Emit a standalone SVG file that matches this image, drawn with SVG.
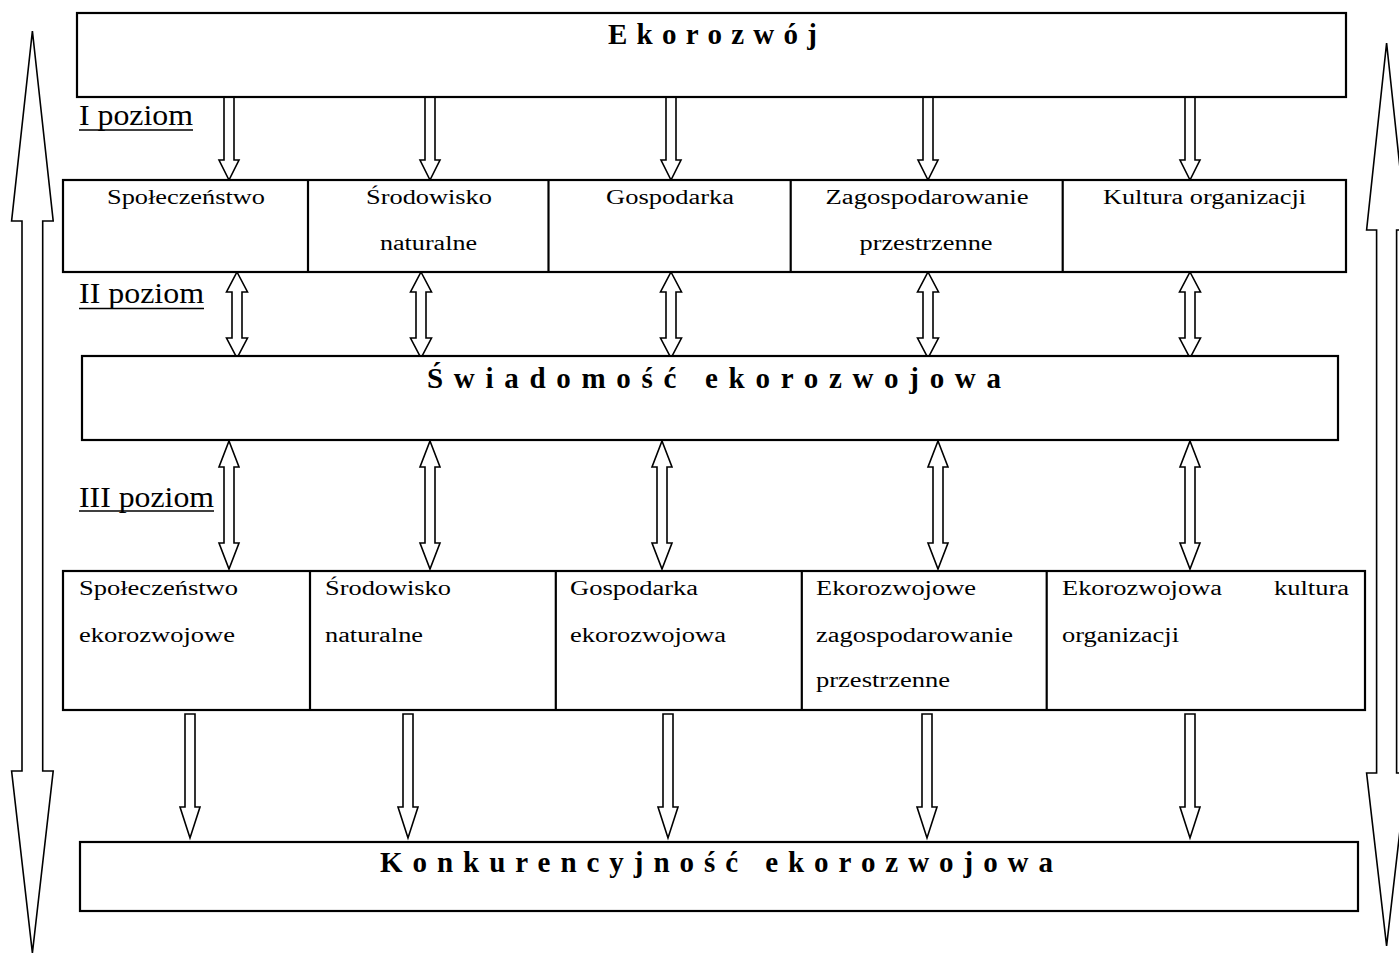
<svg xmlns="http://www.w3.org/2000/svg" width="1399" height="954" viewBox="0 0 1399 954">
<style>
.box{fill:#fff;stroke:#000;stroke-width:2.2}
.div{stroke:#000;stroke-width:2.2}
.arr{fill:#fff;stroke:#000;stroke-width:1.6;stroke-linejoin:miter}
.t{font-family:"Liberation Serif","Times New Roman",serif;font-size:20px;fill:#000}
.c{text-anchor:middle}
.ttl{font-family:"Liberation Serif","Times New Roman",serif;font-size:29px;font-weight:bold;fill:#000;text-anchor:middle}
.lvl{font-family:"Liberation Serif","Times New Roman",serif;font-size:29.5px;fill:#000}
.ul{stroke:#000;stroke-width:1.6}
</style>
<rect width="1399" height="954" fill="#fff"/>

<g id="side-arrows">
<polygon class="arr" points="32.4,31 53.2,221 42.7,221 42.7,771 53.2,771 32.4,953 11.6,771 22,771 22,221 11.6,221"/>
<polygon class="arr" points="1386.6,43 1406.6,230 1396.6,230 1396.6,773 1406.6,773 1386.6,946 1366.6,773 1376.6,773 1376.6,230 1366.6,230"/>
</g>

<g id="level-labels">
<text class="lvl" x="79" y="124.5" textLength="114" lengthAdjust="spacingAndGlyphs">I poziom</text>
<line class="ul" x1="79" y1="130" x2="193" y2="130"/>
<text class="lvl" x="79" y="303" textLength="125" lengthAdjust="spacingAndGlyphs">II poziom</text>
<line class="ul" x1="79" y1="308.5" x2="204" y2="308.5"/>
<text class="lvl" x="79" y="507" textLength="135" lengthAdjust="spacingAndGlyphs">III poziom</text>
<line class="ul" x1="79" y1="511" x2="214" y2="511"/>
</g>

<g id="connectors">
<polygon class="arr" points="224,97 234,97 234,160 239,160 229,180 219,160 224,160"/>
<polygon class="arr" points="425,97 435,97 435,160 440,160 430,180 420,160 425,160"/>
<polygon class="arr" points="666,97 676,97 676,160 681,160 671,180 661,160 666,160"/>
<polygon class="arr" points="923,97 933,97 933,160 938,160 928,180 918,160 923,160"/>
<polygon class="arr" points="1185,97 1195,97 1195,160 1200,160 1190,180 1180,160 1185,160"/>
<polygon class="arr" points="237,272 247.5,292 242,292 242,338 247.5,338 237,358 226.5,338 232,338 232,292 226.5,292"/>
<polygon class="arr" points="421,272 431.5,292 426,292 426,338 431.5,338 421,358 410.5,338 416,338 416,292 410.5,292"/>
<polygon class="arr" points="671,272 681.5,292 676,292 676,338 681.5,338 671,358 660.5,338 666,338 666,292 660.5,292"/>
<polygon class="arr" points="928,272 938.5,292 933,292 933,338 938.5,338 928,358 917.5,338 923,338 923,292 917.5,292"/>
<polygon class="arr" points="1190,272 1200.5,292 1195,292 1195,338 1200.5,338 1190,358 1179.5,338 1185,338 1185,292 1179.5,292"/>
<polygon class="arr" points="229,441 239,467 234,467 234,543 239,543 229,569 219,543 224,543 224,467 219,467"/>
<polygon class="arr" points="430,441 440,467 435,467 435,543 440,543 430,569 420,543 425,543 425,467 420,467"/>
<polygon class="arr" points="662,441 672,467 667,467 667,543 672,543 662,569 652,543 657,543 657,467 652,467"/>
<polygon class="arr" points="938,441 948,467 943,467 943,543 948,543 938,569 928,543 933,543 933,467 928,467"/>
<polygon class="arr" points="1190,441 1200,467 1195,467 1195,543 1200,543 1190,569 1180,543 1185,543 1185,467 1180,467"/>
<polygon class="arr" points="185,714 195,714 195,807 200,807 190,838 180,807 185,807"/>
<polygon class="arr" points="403,714 413,714 413,807 418,807 408,838 398,807 403,807"/>
<polygon class="arr" points="663,714 673,714 673,807 678,807 668,838 658,807 663,807"/>
<polygon class="arr" points="922,714 932,714 932,807 937,807 927,838 917,807 922,807"/>
<polygon class="arr" points="1185,714 1195,714 1195,807 1200,807 1190,838 1180,807 1185,807"/>
</g>

<g id="ekorozwoj">
<rect class="box" x="77" y="13" width="1269" height="84"/>
<text class="ttl" x="712.5" y="44" textLength="209" lengthAdjust="spacing">E k o r o z w ó j</text>
</g>

<g id="level1">
<rect class="box" x="63" y="180" width="1283" height="92"/>
<line class="div" x1="308" y1="180" x2="308" y2="272"/>
<line class="div" x1="548.5" y1="180" x2="548.5" y2="272"/>
<line class="div" x1="790.7" y1="180" x2="790.7" y2="272"/>
<line class="div" x1="1062.7" y1="180" x2="1062.7" y2="272"/>
</g>
<g id="l1-spoleczenstwo"><text class="t c" x="186" y="204" textLength="158" lengthAdjust="spacingAndGlyphs">Społeczeństwo</text></g>
<g id="l1-srodowisko"><text class="t c" x="429" y="204" textLength="126" lengthAdjust="spacingAndGlyphs">Środowisko</text><text class="t c" x="428.5" y="250" textLength="97" lengthAdjust="spacingAndGlyphs">naturalne</text></g>
<g id="l1-gospodarka"><text class="t c" x="670" y="204" textLength="128" lengthAdjust="spacingAndGlyphs">Gospodarka</text></g>
<g id="l1-zagospodarowanie"><text class="t c" x="927" y="204" textLength="203" lengthAdjust="spacingAndGlyphs">Zagospodarowanie</text><text class="t c" x="926" y="250" textLength="133" lengthAdjust="spacingAndGlyphs">przestrzenne</text></g>
<g id="l1-kultura"><text class="t c" x="1204.5" y="204" textLength="203" lengthAdjust="spacingAndGlyphs">Kultura organizacji</text></g>

<g id="swiadomosc">
<rect class="box" x="82" y="356" width="1256" height="84"/>
<text class="ttl" x="714" y="388" textLength="574" lengthAdjust="spacing" xml:space="preserve">Ś w i a d o m o ś ć   e k o r o z w o j o w a</text>
</g>

<g id="level3">
<rect class="box" x="63" y="571" width="1302" height="139"/>
<line class="div" x1="310" y1="571" x2="310" y2="710"/>
<line class="div" x1="555.8" y1="571" x2="555.8" y2="710"/>
<line class="div" x1="801.8" y1="571" x2="801.8" y2="710"/>
<line class="div" x1="1046.7" y1="571" x2="1046.7" y2="710"/>
</g>
<g id="l3-spoleczenstwo"><text class="t" x="79" y="595" textLength="159" lengthAdjust="spacingAndGlyphs">Społeczeństwo</text><text class="t" x="79" y="642" textLength="156" lengthAdjust="spacingAndGlyphs">ekorozwojowe</text></g>
<g id="l3-srodowisko"><text class="t" x="325" y="595" textLength="126" lengthAdjust="spacingAndGlyphs">Środowisko</text><text class="t" x="325" y="642" textLength="98" lengthAdjust="spacingAndGlyphs">naturalne</text></g>
<g id="l3-gospodarka"><text class="t" x="570" y="595" textLength="128" lengthAdjust="spacingAndGlyphs">Gospodarka</text><text class="t" x="570" y="642" textLength="156" lengthAdjust="spacingAndGlyphs">ekorozwojowa</text></g>
<g id="l3-zagospodarowanie"><text class="t" x="816" y="595" textLength="160" lengthAdjust="spacingAndGlyphs">Ekorozwojowe</text><text class="t" x="816" y="642" textLength="197" lengthAdjust="spacingAndGlyphs">zagospodarowanie</text><text class="t" x="816" y="687" textLength="134" lengthAdjust="spacingAndGlyphs">przestrzenne</text></g>
<g id="l3-kultura"><text class="t" y="595"><tspan x="1062" textLength="160" lengthAdjust="spacingAndGlyphs">Ekorozwojowa</tspan> <tspan x="1274" textLength="75" lengthAdjust="spacingAndGlyphs">kultura</tspan></text><text class="t" x="1062" y="642" textLength="117" lengthAdjust="spacingAndGlyphs">organizacji</text></g>

<g id="konkurencyjnosc">
<rect class="box" x="80" y="842" width="1278" height="69"/>
<text class="ttl" x="716.5" y="872" textLength="673" lengthAdjust="spacing" xml:space="preserve">K o n k u r e n c y j n o ś ć   e k o r o z w o j o w a</text>
</g>
</svg>
